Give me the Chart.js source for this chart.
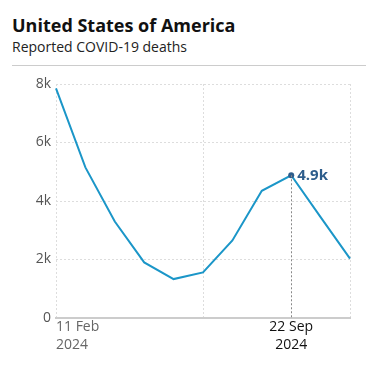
<!DOCTYPE html>
<html>
<head>
<meta charset="utf-8">
<script src="https://cdn.jsdelivr.net/npm/chart.js@4"></script>
<style>
  html, body { margin: 0; padding: 0; background: #fff; }
  body { width: 366px; height: 368px; overflow: hidden; font-family: "Open Sans", sans-serif; }
  .head { padding: 14px 0 0 12px; height: 52px; box-sizing: border-box; }
  .title { font-size: 18px; font-weight: 700; color: #111; line-height: 22px; }
  .sub { font-size: 14px; color: #222; line-height: 20px; margin-top: 1px; }
  .rule { margin: 13px 0 0 12px; border-top: 1px solid #ccc; }
  .wrap { position: absolute; left: 0; top: 66px; width: 366px; height: 302px; }
</style>
</head>
<body>
<div class="head">
  <div class="title">United States of America</div>
  <div class="sub">Reported COVID-19 deaths</div>
</div>
<div class="rule"></div>
<div class="wrap"><canvas id="covidChart"></canvas></div>
<script>
const weeks = ['11 Feb 2024', '10 Mar 2024', '7 Apr 2024', '5 May 2024', '2 Jun 2024', '30 Jun 2024',
  '28 Jul 2024', '25 Aug 2024', '22 Sep 2024', '20 Oct 2024', '17 Nov 2024'];
const deaths = [7850, 5150, 3300, 1900, 1330, 1560, 2650, 4350, 4880, 3450, 2030];
const yTicks = [0, 2000, 4000, 6000, 8000];
const highlight = 8;

const fmtK = v => v === 0 ? '0' : (v / 1000).toFixed(v % 1000 ? 1 : 0) + 'k';

const xLabels = {
  id: 'xLabels',
  afterDraw(chart) {
    const { ctx, scales: { x, y } } = chart;
    ctx.save();
    ctx.textBaseline = 'top';
    ctx.font = '14px "Open Sans"';
    // first date, left aligned
    let px = x.getPixelForValue(0);
    ctx.fillStyle = '#666';
    ctx.textAlign = 'left';
    ctx.fillText('11 Feb', px, y.bottom + 2);
    ctx.fillText('2024', px, y.bottom + 20);
    // highlighted date
    px = x.getPixelForValue(highlight);
    ctx.fillStyle = '#111';
    ctx.textAlign = 'center';
    ctx.fillText('22 Sep', px, y.bottom + 2);
    ctx.fillText('2024', px, y.bottom + 20);

    // dotted marker line and value label
    const py = y.getPixelForValue(deaths[highlight]);
    ctx.strokeStyle = '#888';
    ctx.lineWidth = 1;
    ctx.setLineDash([2, 2]);
    ctx.beginPath();
    ctx.moveTo(Math.round(px) + 0.5, py);
    ctx.lineTo(Math.round(px) + 0.5, y.bottom);
    ctx.stroke();
    ctx.setLineDash([]);
    ctx.fillStyle = '#2d5d8c';
    ctx.font = 'bold 15px "Open Sans"';
    ctx.textAlign = 'left';
    ctx.textBaseline = 'middle';
    ctx.fillText(fmtK(Math.round(deaths[highlight] / 100) * 100), px + 6, py);
    ctx.restore();
  }
};

new Chart(document.getElementById('covidChart'), {
  type: 'line',
  data: {
    labels: weeks,
    datasets: [{
      data: deaths,
      borderColor: '#1b96c8',
      borderWidth: 2,
      tension: 0,
      pointRadius: ctx => ctx.dataIndex === highlight ? 3 : 0,
      pointBackgroundColor: '#2d5d8c',
      pointBorderWidth: 0
    }]
  },
  options: {
    responsive: true,
    maintainAspectRatio: false,
    animation: false,
    layout: { padding: { top: 18, right: 16, left: 0, bottom: 0 } },
    plugins: { legend: { display: false }, tooltip: { enabled: false } },
    scales: {
      x: {
        ticks: { display: false },
        grid: {
          drawTicks: false,
          color: ctx => [0, 5, 10].includes(ctx.index) ? '#ddd' : 'rgba(0,0,0,0)'
        },
        border: { display: true, color: '#ccc', width: 2, dash: [2, 2] },
        afterFit: scale => { scale.height = 50; }
      },
      y: {
        min: 0,
        max: 8000,
        afterBuildTicks: scale => { scale.ticks = yTicks.map(v => ({ value: v })); },
        ticks: {
          callback: v => fmtK(v),
          color: '#555',
          font: { family: 'Open Sans', size: 14 },
          padding: 5
        },
        grid: {
          drawTicks: false,
          color: ctx => ctx.tick && ctx.tick.value === 0 ? 'rgba(0,0,0,0)' : '#ddd'
        },
        border: { display: false, dash: [2, 2] },
        afterFit: scale => { scale.width = 56; }
      }
    }
  },
  plugins: [xLabels]
});
</script>
</body>
</html>
